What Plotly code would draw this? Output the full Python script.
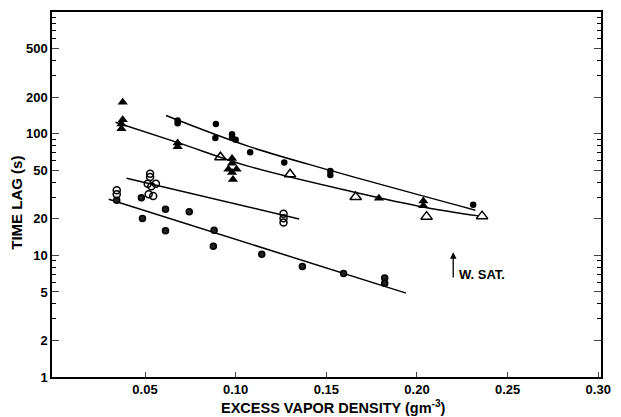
import numpy as np
import plotly.graph_objects as go

# ---- data ----
# series 1: filled circles (upper curve)
s1_x = [0.068, 0.068, 0.0891, 0.0888, 0.098, 0.098, 0.100, 0.108, 0.1268, 0.1522, 0.1522, 0.231]
s1_y = [128, 122, 120, 92, 99, 94, 89, 70.5, 58, 49.3, 45.7, 26]

# series 2a: filled triangles
s2f_x = [0.0377, 0.0377, 0.037, 0.037, 0.068, 0.068, 0.098, 0.098, 0.096, 0.1005, 0.098, 0.0985, 0.179, 0.2035, 0.2035]
s2f_y = [181, 130, 120, 110, 84, 78, 62.5, 57, 51, 51, 48, 42, 29.5, 28, 25.5]
# series 2b: open triangles
s2o_x = [0.0916, 0.130, 0.1662, 0.2053, 0.2359]
s2o_y = [64, 46.3, 30.2, 20.8, 21]

# series 3: open circles
s3_x = [0.0344, 0.0344, 0.0528, 0.0528, 0.0515, 0.056, 0.0535, 0.052, 0.0545, 0.1264, 0.1264, 0.1264]
s3_y = [34.3, 31.7, 46.9, 44, 38.8, 38.8, 37, 31.8, 30.8, 22.0, 20.2, 18.6]

# series 4: filled circles (lower curve)
s4_x = [0.0344, 0.048, 0.0486, 0.0613, 0.0613, 0.0744, 0.0881, 0.0877, 0.1144, 0.1368, 0.1595, 0.1822, 0.1822]
s4_y = [28.4, 29.8, 20.1, 23.9, 15.9, 22.8, 16.1, 11.9, 10.2, 8.1, 7.1, 6.5, 5.9]

# fitted curves (nodes)
lineA_x = [0.0616, 0.1068, 0.1522, 0.2322]
lineA_y = [141, 79, 49.9, 23.5]
lineB_x = [0.0337, 0.0686, 0.1068, 0.1668, 0.2033, 0.2339]
lineB_y = [124, 84, 54.1, 32.7, 25, 21.1]
lineC_x = [0.0398, 0.135]
lineC_y = [43, 19.9]
lineD_x = [0.030, 0.194]
lineD_y = [28.9, 4.89]

y_ticks = [1, 2, 5, 10, 20, 50, 100, 200, 500]
x_ticks = [0.05, 0.10, 0.15, 0.20, 0.25, 0.30]
x_ticklabels = ["0.05", "0.10", "0.15", "0.20", "0.25", "0.30"]

wsat_x = 0.22
wsat_y0, wsat_y1 = 6.4, 10.6
wsat_text_y = 6.9

FONT = "Liberation Sans"

fig = go.Figure()
for lx, ly in [(lineA_x, lineA_y), (lineB_x, lineB_y), (lineC_x, lineC_y), (lineD_x, lineD_y)]:
    fig.add_trace(go.Scatter(x=lx, y=ly, mode="lines",
                             line=dict(color="black", width=1.5, shape="spline", smoothing=1.0),
                             showlegend=False, hoverinfo="skip"))

fig.add_trace(go.Scatter(x=s1_x, y=s1_y, mode="markers", marker=dict(symbol="circle", size=6.5, color="black"), showlegend=False))
fig.add_trace(go.Scatter(x=s4_x, y=s4_y, mode="markers", marker=dict(symbol="circle", size=6, color="#222", line=dict(color="black", width=1.5)), showlegend=False))
fig.add_trace(go.Scatter(x=s3_x, y=s3_y, mode="markers", marker=dict(symbol="circle-open", size=7, color="black", line=dict(width=1.5)), showlegend=False))
fig.add_trace(go.Scatter(x=s2f_x, y=s2f_y, mode="markers", marker=dict(symbol="triangle-up", size=9, color="black"), showlegend=False))
fig.add_trace(go.Scatter(x=s2o_x, y=s2o_y, mode="markers", marker=dict(symbol="triangle-up-open", size=10, color="black", line=dict(width=1.5)), showlegend=False))

minor_y = [m * d for d in (1, 10, 100) for m in (3, 4, 6, 7, 8, 9)]

fig.update_layout(
    width=621, height=417,
    margin=dict(l=52, r=14, t=10, b=40),
    paper_bgcolor="white", plot_bgcolor="white",
    font=dict(family=FONT, size=13, color="black"),
    xaxis=dict(range=[-0.0013, 0.3015], tickvals=x_ticks, ticktext=x_ticklabels,
               ticks="inside", ticklen=5, tickwidth=1, showline=True, linecolor="black",
               linewidth=1.5, mirror=True, showgrid=False, zeroline=False,
               tickfont=dict(family=FONT, size=13, weight="bold")),
    yaxis=dict(type="log", range=[0, 3], tickvals=y_ticks, ticks="inside", ticklen=7,
               tickwidth=1, showline=True, linecolor="black", linewidth=1.5,
               mirror="allticks", showgrid=False, zeroline=False,
               minor=dict(tickvals=minor_y, ticks="inside", ticklen=4, tickcolor="black", showgrid=False),
               tickfont=dict(family=FONT, size=13, weight="bold")),
)

fig.add_annotation(x=0.512, y=-0.082, xref="paper", yref="paper", showarrow=False,
                   text="EXCESS VAPOR DENSITY (gm<sup>-3</sup>)", yanchor="middle",
                   font=dict(family=FONT, size=14.5, weight="bold"))
fig.add_annotation(x=-0.064, y=0.477, xref="paper", yref="paper", showarrow=False,
                   text="TIME LAG (s)", textangle=-90, xanchor="center",
                   font=dict(family=FONT, size=15, weight="bold"))
fig.add_annotation(x=wsat_x, y=np.log10(wsat_y1), ax=wsat_x, ay=np.log10(wsat_y0),
                   xref="x", yref="y", axref="x", ayref="y", text="", showarrow=True,
                   arrowhead=2, arrowsize=1, arrowwidth=1.3, arrowcolor="black")
fig.add_annotation(x=wsat_x + 0.002, y=np.log10(wsat_text_y), xref="x", yref="y",
                   text="W. SAT.", showarrow=False, xanchor="left",
                   font=dict(family=FONT, size=13, weight="bold"))

fig.write_html("out.html")
